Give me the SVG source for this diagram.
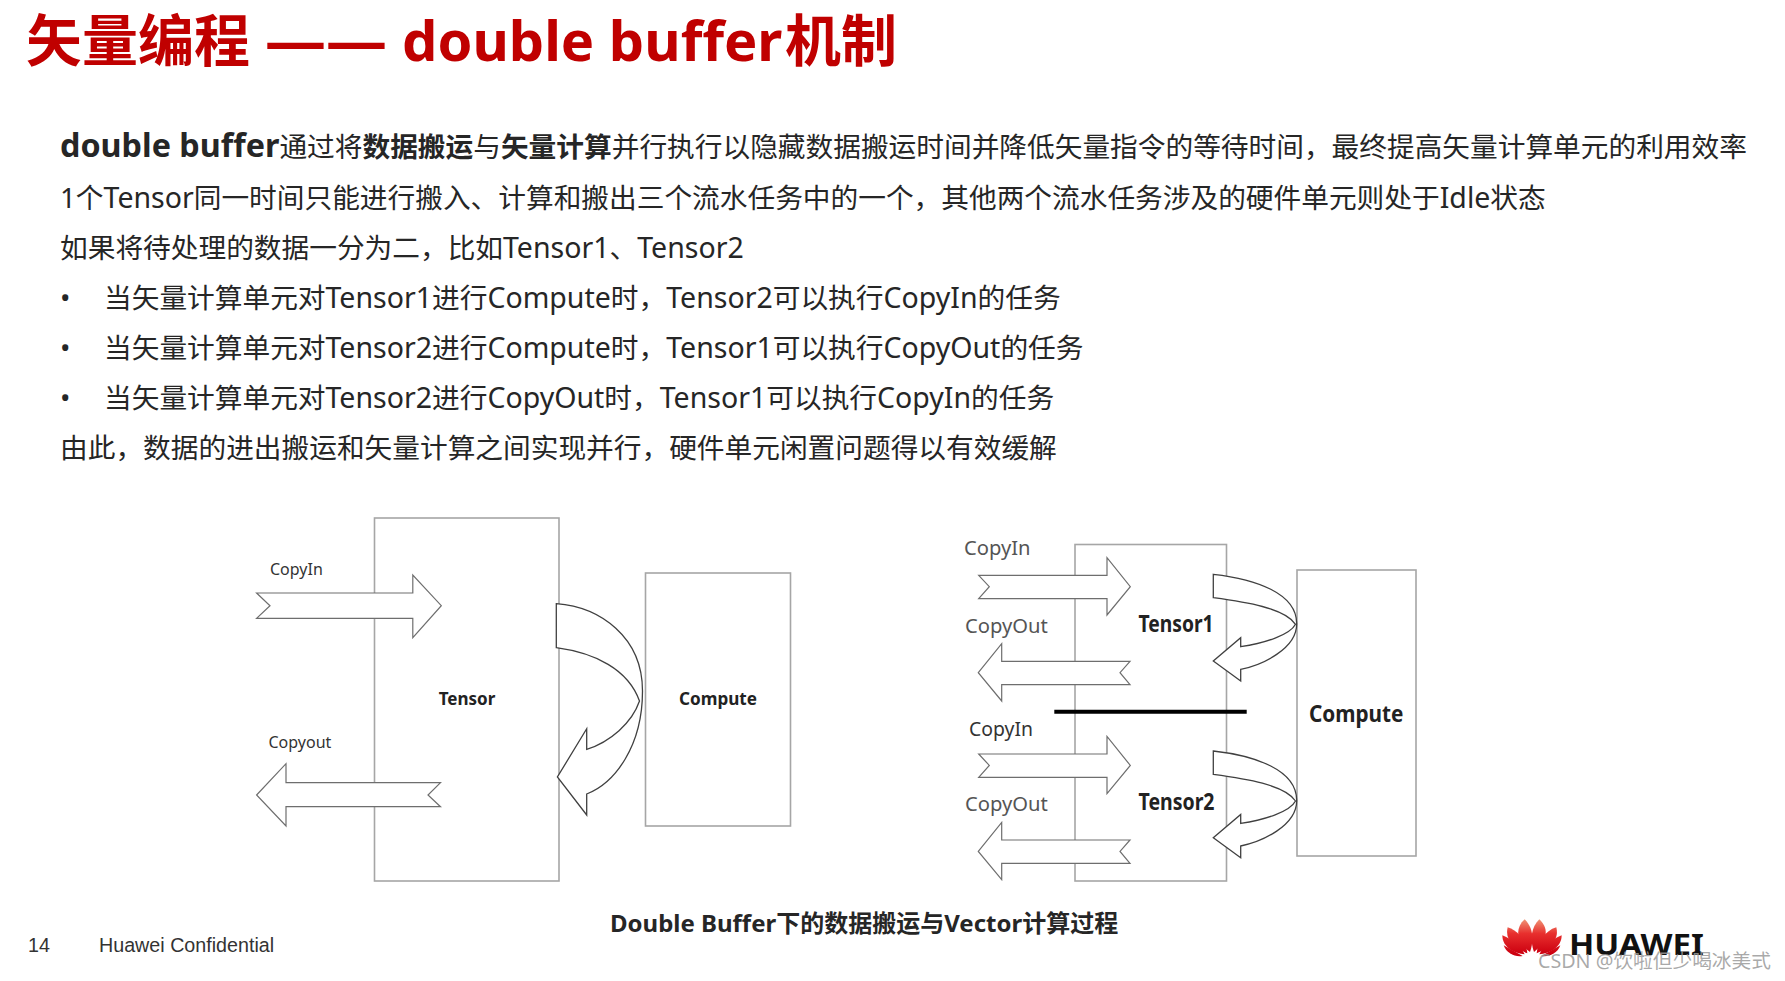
<svg xmlns="http://www.w3.org/2000/svg" width="1785" height="981" viewBox="0 0 1785 981">
<style>
text{font-family:"Noto Sans","Noto Sans CJK SC",sans-serif;}
.title{font-size:56px;font-weight:700;fill:#c00000;}
.body{font-size:27.7px;fill:#262626;}
.b{font-weight:700;}
.l{font-size:28.5px;}
.box{fill:none;stroke:#a6a6a6;stroke-width:1.6;}
.sh{fill:#fff;stroke:#6e6e6e;stroke-width:1.2;stroke-linejoin:miter;}
.cv{fill:#fff;stroke:#404040;stroke-width:1.3;}
.lab{font-size:16px;fill:#333;}
.lab2{font-size:20.2px;fill:#555;}
.nm{font-weight:700;fill:#222;}
.foot{font-family:"Liberation Sans",sans-serif;font-size:19.7px;fill:#333;}
.pt{fill:url(#pet);}
</style>
<defs>
<linearGradient id="pet" gradientUnits="userSpaceOnUse" x1="0" y1="24" x2="0" y2="125"><stop offset="0" stop-color="#ef8f72"/><stop offset=".4" stop-color="#e8302e"/><stop offset="1" stop-color="#cc0010"/></linearGradient>
<path id="ar" d="M978.7 574.3H1107V556.7L1130.3 585.7L1107 614V597.7H978.7L989.3 585.7Z"/>
<path id="al" d="M978.3 671.7L1001.7 642.7V660.3H1130L1120 671.7L1130 683.7H1001.7V700Z"/>
<path id="cv" d="M1213.3 573.3C1255 578 1297 592 1296.7 623C1296.7 648 1262 664 1240.7 668.3V680L1213.3 660L1240.7 636.7V645.7C1265 642 1290 634 1295.5 623.3C1285 607 1245 601 1213.3 596.7Z"/>
</defs>
<rect width="1785" height="981" fill="#fff"/>
<text class="title" x="26" y="61">矢量编程</text>
<text class="title" x="265" y="61" textLength="122" lengthAdjust="spacingAndGlyphs">——</text>
<text class="title" x="402" y="61" font-size="57">double buffer</text>
<text class="title" x="785" y="61">机制</text>
<g id="body-text" transform="translate(0 1)">
<text class="body" x="60" y="156"><tspan class="b" font-size="32.3">double buffer</tspan>通过将<tspan class="b">数据搬运</tspan>与<tspan class="b">矢量计算</tspan>并行执行以隐藏数据搬运时间并降低矢量指令的等待时间，最终提高矢量计算单元的利用效率</text>
<text class="body" x="60" y="207">1个<tspan class="l">Tensor</tspan>同一时间只能进行搬入、计算和搬出三个流水任务中的一个，其他两个流水任务涉及的硬件单元则处于<tspan class="l">Idle</tspan>状态</text>
<text class="body" x="60" y="257">如果将待处理的数据一分为二，比如<tspan class="l">Tensor1</tspan>、<tspan class="l">Tensor2</tspan></text>
<text class="body" x="60" y="307">•</text><text class="body" x="104" y="307">当矢量计算单元对<tspan class="l">Tensor1</tspan>进行<tspan class="l">Compute</tspan>时，<tspan class="l">Tensor2</tspan>可以执行<tspan class="l">CopyIn</tspan>的任务</text>
<text class="body" x="60" y="357">•</text><text class="body" x="104" y="357">当矢量计算单元对<tspan class="l">Tensor2</tspan>进行<tspan class="l">Compute</tspan>时，<tspan class="l">Tensor1</tspan>可以执行<tspan class="l">CopyOut</tspan>的任务</text>
<text class="body" x="60" y="407">•</text><text class="body" x="104" y="407">当矢量计算单元对<tspan class="l">Tensor2</tspan>进行<tspan class="l">CopyOut</tspan>时，<tspan class="l">Tensor1</tspan>可以执行<tspan class="l">CopyIn</tspan>的任务</text>
<text class="body" x="60" y="457">由此，数据的进出搬运和矢量计算之间实现并行，硬件单元闲置问题得以有效缓解</text>
</g>
<g transform="translate(0 1)">
<g id="node-tensor"><rect class="box" x="374.5" y="517" width="184.5" height="363"/><text class="nm" x="467" y="704" font-size="17" text-anchor="middle">Tensor</text></g>
<g id="node-compute"><rect class="box" x="645.5" y="572" width="145" height="253"/><text class="nm" x="718" y="704" font-size="17" text-anchor="middle" textLength="78" lengthAdjust="spacingAndGlyphs">Compute</text></g>
<g id="node-tensor-pair"><rect class="box" x="1075" y="543.5" width="151.5" height="336.5"/><text class="nm" x="1138.5" y="631" font-size="22.5" textLength="75" lengthAdjust="spacingAndGlyphs">Tensor1</text><text class="nm" x="1138.5" y="809" font-size="22.5" textLength="76" lengthAdjust="spacingAndGlyphs">Tensor2</text></g>
<g id="node-compute2"><rect class="box" x="1297" y="569" width="119" height="286"/><text class="nm" x="1309" y="721" font-size="23" textLength="94.5" lengthAdjust="spacingAndGlyphs">Compute</text></g>
<g id="connectors">
<path class="sh" d="M256.6 592H412.8V574L441.3 604.7L412.8 636.7V617.3H256.6L270 604.7Z"/>
<path class="sh" d="M256.6 794L286 762.7V781.7H440.5L428 794L440.5 805.7H286V825Z"/>
<path class="cv" d="M556.3 602.7C600 606 642.5 636 642.5 690C642.5 745 615 782 586.7 793V814L557.4 776L586.7 727.7V748.3C610 741 632 722 639.5 700C628 668 595 652 556.3 646.7Z"/>
<use class="sh" href="#ar"/><use class="sh" href="#al"/>
<use class="sh" href="#ar" y="178.7"/><use class="sh" href="#al" y="178.7"/>
<use class="cv" href="#cv"/><use class="cv" href="#cv" y="176.7"/>
<line x1="1054.3" y1="710.7" x2="1246.7" y2="710.7" stroke="#000" stroke-width="4"/>
</g>
<text class="lab" x="270" y="574">CopyIn</text>
<text class="lab" x="268.5" y="747">Copyout</text>
<text class="lab2" x="964" y="554">CopyIn</text>
<text class="lab2" x="965" y="632">CopyOut</text>
<text class="lab2" x="969" y="735" style="fill:#333" textLength="64" lengthAdjust="spacingAndGlyphs">CopyIn</text>
<text class="lab2" x="965" y="810">CopyOut</text>
<text x="610" y="931" font-size="24" font-weight="700" fill="#262626">Double Buffer下的数据搬运与Vector计算过程</text>
<text class="foot" x="28" y="951">14</text>
<text class="foot" x="99" y="951">Huawei Confidential</text>
</g>
<g id="logo" transform="translate(1495 912) scale(.3333)">
<path class="pt" d="M105 120C68 92 56 52 89 22C114 46 118 84 105 120Z"/>
<path class="pt" d="M117 120C104 84 108 46 133 22C166 52 154 92 117 120Z"/>
<path class="pt" d="M97 124C62 110 28 88 38 46C72 56 94 90 97 124Z"/>
<path class="pt" d="M125 124C160 110 194 88 184 46C150 56 128 90 125 124Z"/>
<path class="pt" d="M89 127C60 124 22 108 22 70C54 84 78 104 89 127Z"/>
<path class="pt" d="M133 127C162 124 200 108 200 70C168 84 144 104 133 127Z"/>
<path class="pt" d="M83 132L26 100C34 124 60 136 83 132Z"/>
<path class="pt" d="M139 132L196 100C188 124 162 136 139 132Z"/>
</g>
<text x="1569" y="955" font-size="28" font-weight="700" fill="#111" textLength="135" lengthAdjust="spacingAndGlyphs">HUAWEI</text>
<text x="1538" y="968" font-size="19.7" fill="#9a9a9a" fill-opacity=".85">CSDN @饮啦但少喝冰美式</text>
</svg>
